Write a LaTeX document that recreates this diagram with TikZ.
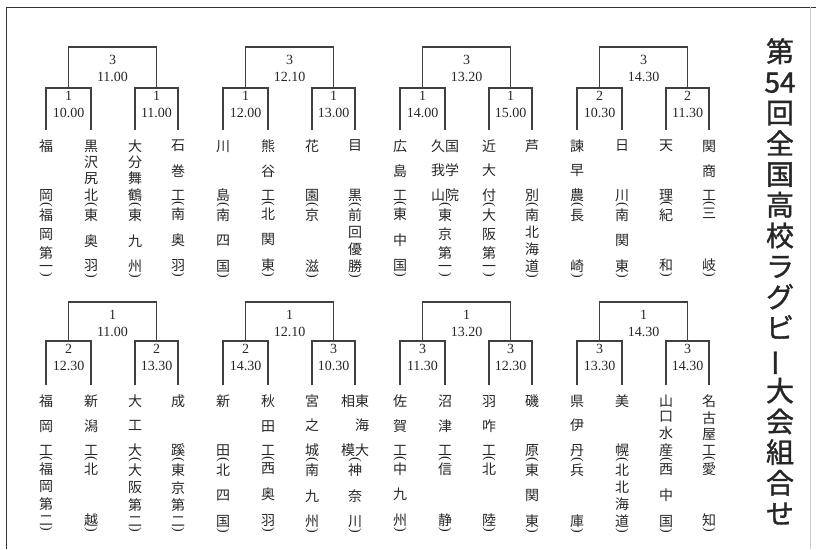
\documentclass[tikz,border=0pt]{standalone}
\usepackage{fontspec}
\setmainfont{Liberation Serif}
\newfontfamily\jp{Noto Sans CJK JP}
\newfontfamily\jptitle[FakeBold=1.2]{Noto Sans CJK JP}

% a column of characters spread over a fixed height
\def\vspreadloop#1{\hbox to 14pt{\hss#1\hss}\futurelet\vnext\vspreadcheck}
\def\vspreadcheck{\ifx\vnext\relax\expandafter\vspreadstop\else\vfill\expandafter\vspreadloop\fi}
\def\vspreadstop\relax{}
\newcommand\vname[2]{\vbox to #1{\offinterlineskip\vspreadloop#2\relax}}
% vertical brackets
\newcommand\vparen[2]{\vbox to #1{\vss\hbox to 30pt{\hss\rotatebox[origin=c]{-90}{\fontspec{Liberation Serif}#2}\hss}\vss}}
% team name, then its region in brackets
\newcommand\team[2]{\vbox{\offinterlineskip
  \hbox to 30pt{\hss\vname{60pt}{#1}\hss}
  \vparen{8pt}{(}
  \hbox to 30pt{\hss\vname{62pt}{#2}\hss}
  \vparen{8pt}{)}}}
\newcommand\teamw[3]{\vbox{\offinterlineskip
  \hbox to 30pt{\hss\vname{60pt}{#1}\vname{60pt}{#2}\hss}
  \vparen{8pt}{(}
  \hbox to 30pt{\hss\vname{62pt}{#3}\hss}
  \vparen{8pt}{)}}}

\tikzstyle{team}=[anchor=north, inner sep=0pt, outer ysep=10pt, text=black!85, font=\jp\fontsize{14}{14}\selectfont]
\tikzstyle{match}=[anchor=north, align=center, inner xsep=0pt, inner ysep=3pt, text=black!85, font=\fontsize{14}{17}\selectfont]
\tikzstyle{final}=[match, inner ysep=8pt]
\tikzstyle{bracket}=[line width=1.5pt, draw=black!75]
\tikzstyle{title}=[anchor=north, align=center, inner sep=0pt, text=black!85, font=\jptitle\fontsize{28}{30.7}\selectfont]

\begin{document}
\begin{tikzpicture}[x=1pt,y=-1pt]
    \useasboundingbox (0,0) rectangle (816,549);

    %frame
    \draw[black!80, line width=1pt] (6,549) |- (816,7);
    \draw[black!20] (810,7) -- (810,549);

    %top row teams
    \node[team] (t1) at (46,130) {\team{福岡}{福岡第一}};
    \node[team] (t2) at (91,130) {\team{黒沢尻北}{東奥羽}};
    \node[team] (t3) at (135,130) {\team{大分舞鶴}{東九州}};
    \node[team] (t4) at (178,130) {\team{石巻工}{南奥羽}};
    \node[team] (t5) at (223,130) {\team{川島}{南四国}};
    \node[team] (t6) at (268,130) {\team{熊谷工}{北関東}};
    \node[team] (t7) at (312,130) {\team{花園}{京滋}};
    \node[team] (t8) at (355,130) {\team{目黒}{前回優勝}};
    \node[team] (t9) at (400,130) {\team{広島工}{東中国}};
    \node[team] (t10) at (445,130) {\teamw{久我山}{国学院}{東京第一}};
    \node[team] (t11) at (489,130) {\team{近大付}{大阪第一}};
    \node[team] (t12) at (532,130) {\team{芦別}{南北海道}};
    \node[team] (t13) at (577,130) {\team{諫早農}{長崎}};
    \node[team] (t14) at (622,130) {\team{日川}{南関東}};
    \node[team] (t15) at (666,130) {\team{天理}{紀和}};
    \node[team] (t16) at (709,130) {\team{関商工}{三岐}};

    %bottom row teams
    \node[team] (t17) at (46,385) {\team{福岡工}{福岡第二}};
    \node[team] (t18) at (91,385) {\team{新潟工}{北越}};
    \node[team] (t19) at (135,385) {\team{大工大}{大阪第二}};
    \node[team] (t20) at (178,385) {\team{成蹊}{東京第二}};
    \node[team] (t21) at (223,385) {\team{新田}{北四国}};
    \node[team] (t22) at (268,385) {\team{秋田工}{西奥羽}};
    \node[team] (t23) at (312,385) {\team{宮之城}{南九州}};
    \node[team] (t24) at (355,385) {\teamw{相模}{東海大}{神奈川}};
    \node[team] (t25) at (400,385) {\team{佐賀工}{中九州}};
    \node[team] (t26) at (445,385) {\team{沼津工}{信静}};
    \node[team] (t27) at (489,385) {\team{羽咋工}{北陸}};
    \node[team] (t28) at (532,385) {\team{磯原}{東関東}};
    \node[team] (t29) at (577,385) {\team{県伊丹}{兵庫}};
    \node[team] (t30) at (622,385) {\team{美幌}{北北海道}};
    \node[team] (t31) at (666,385) {\team{山口水産}{西中国}};
    \node[team] (t32) at (709,385) {\team{名古屋工}{愛知}};

    %first matches
    \node[match] (s1) at (68.5,88) {1\\10.00};
    \node[match] (s2) at (156.5,88) {1\\11.00};
    \node[match] (s3) at (245.5,88) {1\\12.00};
    \node[match] (s4) at (333.5,88) {1\\13.00};
    \node[match] (s5) at (422.5,88) {1\\14.00};
    \node[match] (s6) at (510.5,88) {1\\15.00};
    \node[match] (s7) at (599.5,88) {2\\10.30};
    \node[match] (s8) at (687.5,88) {2\\11.30};
    \node[match] (s9) at (68.5,341) {2\\12.30};
    \node[match] (s10) at (156.5,341) {2\\13.30};
    \node[match] (s11) at (245.5,341) {2\\14.30};
    \node[match] (s12) at (333.5,341) {3\\10.30};
    \node[match] (s13) at (422.5,341) {3\\11.30};
    \node[match] (s14) at (510.5,341) {3\\12.30};
    \node[match] (s15) at (599.5,341) {3\\13.30};
    \node[match] (s16) at (687.5,341) {3\\14.30};

    %second matches
    \node[final] (f1) at (112.5,47) {3\\11.00};
    \node[final] (f2) at (289.5,47) {3\\12.10};
    \node[final] (f3) at (466.5,47) {3\\13.20};
    \node[final] (f4) at (643.5,47) {3\\14.30};
    \node[final] (f5) at (112.5,302) {1\\11.00};
    \node[final] (f6) at (289.5,302) {1\\12.10};
    \node[final] (f7) at (466.5,302) {1\\13.20};
    \node[final] (f8) at (643.5,302) {1\\14.30};

    %brackets
    \foreach \i in {1,...,16}{
        \pgfmathtruncatemacro\a{2*\i-1}\pgfmathtruncatemacro\b{2*\i}
        \draw[bracket] (t\a.north) |- (s\i.north) -| (t\b.north);}
    \foreach \i in {1,...,8}{
        \pgfmathtruncatemacro\a{2*\i-1}\pgfmathtruncatemacro\b{2*\i}
        \draw[bracket] (s\a.north) |- (f\i.north) -| (s\b.north);}

    %title
    \node[title] (title) at (780,38) {第\\54\\回\\全\\国\\高\\校\\ラ\\グ\\ビ\\\rotatebox[origin=c]{90}{ー}\\大\\会\\組\\合\\せ};

\end{tikzpicture}
\end{document}
